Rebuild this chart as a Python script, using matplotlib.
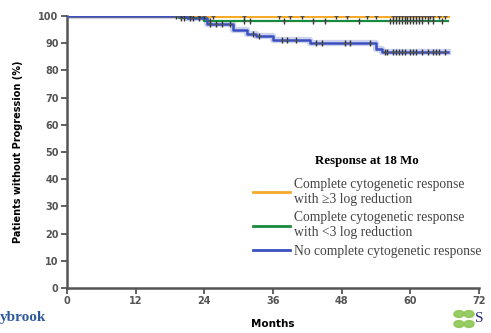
import matplotlib
matplotlib.use("Agg")
import matplotlib.pyplot as plt
from matplotlib.patches import Ellipse
import numpy as np

# ---------------- data ----------------
x_ticks = [0, 12, 24, 36, 48, 60, 72]
y_ticks = [0, 10, 20, 30, 40, 50, 60, 70, 80, 90, 100]

orange_t = [0, 66.5]
orange_s = [100, 100]
orange_cens = [20, 21.5, 23, 24, 25.5, 31, 37, 39, 41, 47, 49, 52.5, 54, 57, 57.5, 58,
               58.5, 59, 59.5, 60, 60.5, 61, 61.5, 62, 62.5, 63, 63.5, 64, 65, 66]

green_t = [0, 19.5, 24, 66.5]
green_s = [100, 99.2, 98.2, 98.2]
green_cens = [20, 20.5, 22, 25, 31, 32, 38, 43, 45, 51, 56.5, 57, 57.5, 58, 58.5, 59,
              59.5, 60, 60.5, 61, 61.5, 62, 63, 64, 65.5]

blue_t = [0, 21, 24.5, 29, 31.5, 33, 36, 42.5, 54, 55, 66.5]
blue_s = [100, 99.2, 97, 95, 93.5, 92.5, 91, 90, 88, 86.7, 86.7]
blue_cens = [19, 21.5, 23, 25, 26, 27, 28.5, 32.5, 33.5, 37.5, 38.5, 40, 43.5, 44.5,
             48.5, 49.5, 53, 55.5, 56, 57, 57.5, 58, 58.5, 59, 60, 60.5, 61, 62, 63, 64,
             64.5, 65, 66]

labels = ["Complete cytogenetic response\nwith \u22653 log reduction",
          "Complete cytogenetic response\nwith <3 log reduction",
          "No complete cytogenetic response"]
colors = ["#F7A928", "#1A8A3C", "#3A50C0"]

# ---------------- figure ----------------
fig = plt.figure(figsize=(4.91, 3.33), dpi=100)
ax = fig.add_axes([67/491, 1-288/333, (479-67)/491, (288-16)/333])


def surv_at(t_arr, s_arr, x):
    idx = np.searchsorted(t_arr, x, side="right") - 1
    return np.asarray(s_arr)[idx]


series = [(orange_t, orange_s, orange_cens, 3.0),
          (green_t, green_s, green_cens, 1.6),
          (blue_t, blue_s, blue_cens, 1.8)]
handles = []
for (t, s, c, lw), col, lab in zip(series, colors, labels):
    if col == colors[2]:
        ax.step(t, s, where="post", color=col, lw=4.5, alpha=0.25, zorder=2)
    h, = ax.step(t, s, where="post", color=col, lw=lw, label=lab, zorder=3)
    handles.append(h)
    cy = surv_at(t, s, np.array(c))
    ax.plot(c, cy, ls="none", marker="|", ms=5, mew=1.0, color="#333333", zorder=4)
    ax.plot(c, cy, ls="none", marker="_", ms=3, mew=0.8, color="#555555", zorder=4)

ax.set_xlim(0, 72)
ax.set_ylim(0, 100)
ax.set_xticks(x_ticks)
ax.set_yticks(y_ticks)
ax.set_xticklabels([str(v) for v in x_ticks], fontsize=7, fontweight="bold", color="#555555")
ax.set_yticklabels([str(v) for v in y_ticks], fontsize=7, fontweight="bold", color="#555555")
for sp in ["top", "right"]:
    ax.spines[sp].set_visible(False)
for sp in ["left", "bottom"]:
    ax.spines[sp].set_linewidth(1.8)
    ax.spines[sp].set_color("#555555")
ax.tick_params(direction="out", length=4, width=1.3, color="#555555", pad=2)
ax.spines["bottom"].set_zorder(5)

ax.set_xlabel("Months", fontsize=7.5, fontweight="bold", labelpad=9)
ax.set_ylabel("Patients without Progression (%)", fontsize=7, fontweight="bold", labelpad=11)

leg = ax.legend(handles=handles, title="Response at 18 Mo", loc="upper left",
                bbox_to_anchor=(246/491, 1-148/333), bbox_transform=fig.transFigure,
                frameon=False, handlelength=2.7, handletextpad=0.36, labelspacing=0.4,
                borderpad=0.0, prop={"family": "Liberation Serif", "size": 9.8})
leg.get_title().set_fontweight("bold")
leg.get_title().set_family("Liberation Serif")
leg.get_title().set_fontsize(9.3)
leg._legend_box.sep = 8
for line in leg.get_lines():
    line.set_linewidth(2.0)
for txt in leg.get_texts():
    txt.set_color("#444444")
    txt.set_linespacing(1.2)

# logos / decorations
fig.text(0.0, 1-318/333, "ybrook", fontsize=11, family="Liberation Serif",
         fontweight="bold", color="#2E5A9C", va="center", ha="left")
for dx, dy, ang in [(0, 0, 45), (10, 0, -45), (0, 10, -45), (10, 10, 45)]:
    fig.patches.append(Ellipse(((459+dx)/491, (9+dy)/333), 10/491, 7/333, angle=ang,
                               transform=fig.transFigure, color="#8CC653", alpha=0.9))
fig.text(475/491, 1-318/333, "S", fontsize=11, family="Liberation Serif",
         color="#2A2A7A", va="center", ha="left")

fig.savefig("out.png", dpi=100)
